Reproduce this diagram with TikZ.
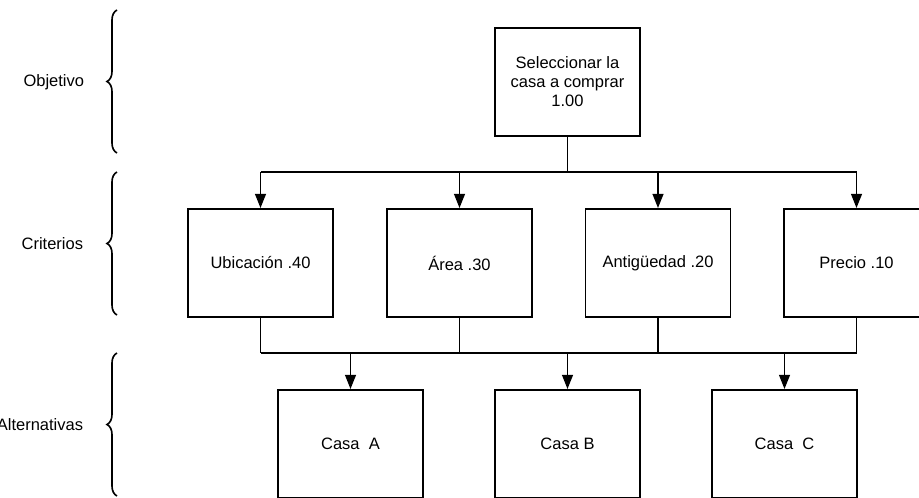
\documentclass[tikz,border=0pt]{standalone}
\usepackage{fontspec}
\setmainfont{Liberation Sans}
\usetikzlibrary{arrows.meta,decorations.pathreplacing}

\begin{document}
\begin{tikzpicture}[x=0.026cm,y=-0.026cm
  ,>={Triangle[length=10.5pt,width=8pt]}
  ,line width=1.4pt
  ,font=\fontsize{12.2}{14}\selectfont]
  \tikzset{caja/.style={draw,rectangle,minimum width=3.77cm
      ,minimum height=2.81cm,align=center,inner sep=2pt}
    ,llave/.style={decorate,decoration={brace,amplitude=10*0.026cm},line width=1.2pt}
    ,nivel/.style={anchor=east,inner sep=0pt}}

  \clip (0,0) rectangle (919,498);
  \useasboundingbox (0,0) rectangle (919,498);

  % niveles
  \node[caja] (obj) at (567.5,82) {Seleccionar la\\casa a comprar\\1.00};

  \node[caja] (ubi) at (260.5,263) {Ubicaci\'on .40};
  \node[caja] (are) at (459.5,263) {\'Area .30};
  \node[caja] (ant) at (658,263)   {Antig\"uedad .20};
  \node[caja] (pre) at (856.5,263) {Precio .10};

  \node[caja] (cA) at (350.5,444) {Casa\ \ A};
  \node[caja] (cB) at (567.5,444) {Casa B};
  \node[caja] (cC) at (784.5,444) {Casa\ \ C};

  % conectores
  \coordinate (b1) at (567.5,172);
  \coordinate (b2) at (567.5,353);
  \draw (obj.south) -- (b1);
  \draw (ubi.north |- b1) -- (pre.north |- b1);
  \draw (ubi.south |- b2) -- (pre.south |- b2);
  \foreach \c in {ubi,are,ant,pre} {
    \draw[->] (\c.north |- b1) -- (\c.north);
    \draw (\c.south) -- (\c.south |- b2);
  }
  \foreach \c in {cA,cB,cC} {
    \draw[->] (\c.north |- b2) -- (\c.north);
  }

  % llaves
  \draw[llave] (117,153) -- (117,10);
  \draw[llave] (117,315) -- (117,172);
  \draw[llave] (117,496) -- (117,353);

  \node[nivel] (lobj) at (85,82)  {Objetivo};
  \node[nivel] (lcri) at (84,244) {Criterios};
  \node[nivel] (lalt) at (84,425) {Alternativas};
\end{tikzpicture}
\end{document}
